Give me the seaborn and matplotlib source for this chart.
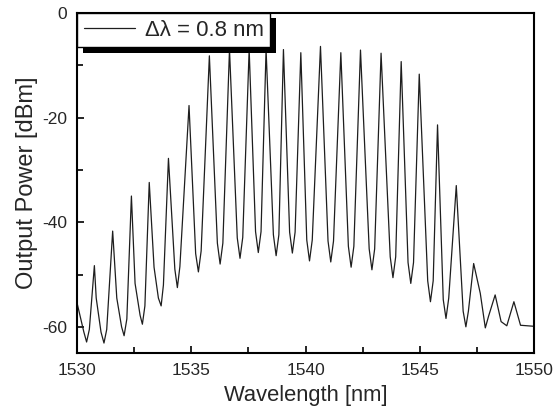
import numpy as np
import pandas as pd
import matplotlib
matplotlib.use("Agg")
import matplotlib.pyplot as plt
import matplotlib.patheffects as pe
import seaborn as sns

# spectrum: valleys (with their rounded walls), peaks, shoulders
wavelength = [1530.00, 1530.30, 1530.42, 1530.54, 1530.76, 1530.84, 1531.05, 1531.18,
              1531.30, 1531.56, 1531.74, 1531.95, 1532.06, 1532.18, 1532.38, 1532.54,
              1532.76, 1532.86, 1532.97, 1533.16, 1533.37, 1533.56, 1533.68, 1533.78,
              1534.00, 1534.28, 1534.39, 1534.50, 1534.90, 1535.19, 1535.31, 1535.43,
              1535.79, 1536.14, 1536.26, 1536.38, 1536.67, 1537.01, 1537.13, 1537.25,
              1537.53, 1537.81, 1537.93, 1538.05, 1538.27, 1538.59, 1538.71, 1538.83,
              1539.03, 1539.30, 1539.42, 1539.54, 1539.79, 1540.05, 1540.17, 1540.29,
              1540.65, 1540.98, 1541.10, 1541.22, 1541.54, 1541.87, 1541.99, 1542.11,
              1542.40, 1542.78, 1542.90, 1543.02, 1543.30, 1543.70, 1543.82, 1543.94,
              1544.18, 1544.48, 1544.60, 1544.72, 1544.97, 1545.34, 1545.46, 1545.58,
              1545.77, 1546.02, 1546.14, 1546.26, 1546.59, 1546.89, 1547.01, 1547.12,
              1547.35, 1547.64, 1547.86, 1548.00, 1548.29, 1548.55, 1548.80, 1549.11,
              1549.40, 1550.00]
power = [-55.4, -61.0, -62.9, -60.5, -48.3, -54.5, -61.0, -63.1,
         -60.5, -41.7, -54.5, -60.0, -61.7, -58.5, -35.0, -51.7,
         -57.8, -59.5, -56.0, -32.4, -48.6, -54.5, -56.0, -52.0,
         -27.8, -49.0, -52.5, -48.5, -17.7, -46.0, -49.5, -45.5,
         -8.2, -44.0, -48.0, -44.0, -7.0, -43.0, -46.9, -42.9,
         -7.0, -41.8, -45.8, -41.8, -7.0, -42.4, -46.4, -42.4,
         -7.0, -41.9, -45.9, -41.9, -7.6, -43.4, -47.4, -43.4,
         -6.4, -43.6, -47.6, -43.6, -7.6, -44.6, -48.6, -44.6,
         -7.1, -45.1, -49.1, -45.1, -7.7, -46.6, -50.6, -46.6,
         -9.3, -47.7, -51.7, -47.7, -11.7, -51.2, -55.2, -51.2,
         -21.4, -54.8, -58.4, -54.5, -33.0, -57.0, -60.0, -57.0,
         -47.9, -53.6, -60.2, -58.0, -53.9, -59.0, -59.8, -55.2,
         -59.7, -59.9]
series_label = "\u0394\u03bb = 0.8 nm"

df = pd.DataFrame({"wavelength": wavelength, "power": power})

sns.set_style("ticks", {"xtick.direction": "in", "ytick.direction": "in"})
plt.rcParams['font.family'] = ['Liberation Sans', 'DejaVu Sans']
plt.rcParams['axes.unicode_minus'] = False

fig, ax = plt.subplots(figsize=(5.6, 4.17), dpi=100)
fig.subplots_adjust(left=0.1375, right=0.954, top=0.969, bottom=0.1535)

sns.lineplot(data=df, x="wavelength", y="power", color="#1e1e1e", linewidth=0.9,
             label=series_label, ax=ax)

ax.set_xlim(1530, 1550)
ax.set_ylim(-65, 0)
ax.set_xticks([1530, 1535, 1540, 1545, 1550])
ax.set_xticks([1532.5, 1537.5, 1542.5, 1547.5], minor=True)
ax.set_yticks([0, -20, -40, -60])
ax.set_yticks([-10, -30, -50], minor=True)
ax.tick_params(which="both", direction="in", labelsize=12.5, width=1.2, color="black")
ax.tick_params(which="major", length=5, pad=7)
ax.tick_params(which="minor", length=4)
for s in ax.spines.values():
    s.set_linewidth(1.5)
    s.set_color("black")

ax.set_xlabel("Wavelength [nm]", fontsize=15.8, labelpad=5)
ax.set_ylabel("Output Power [dBm]", fontsize=17, labelpad=3)

leg = ax.legend(loc="upper left", borderaxespad=0, fontsize=16, fancybox=False,
                framealpha=1, edgecolor="black", handlelength=2.3,
                borderpad=0.3, handletextpad=0.45)
leg.get_frame().set_linewidth(1.0)
leg.get_frame().set_path_effects([
    pe.SimplePatchShadow(offset=(4, -4), shadow_rgbFace="black", alpha=1.0),
    pe.Normal()])
leg.set_zorder(5)

plt.savefig("out.png", dpi=100)
